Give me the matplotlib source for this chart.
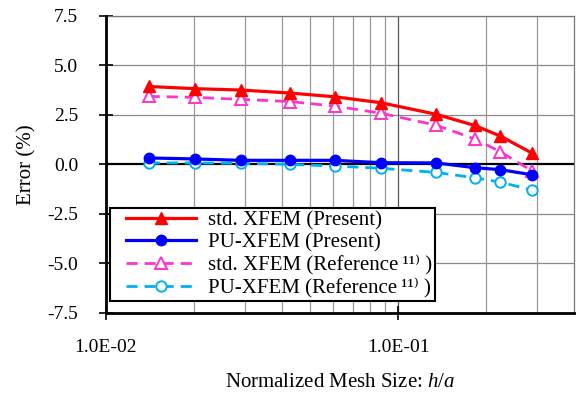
import matplotlib
matplotlib.use('Agg')
from matplotlib import pyplot as plt
from matplotlib.ticker import FixedLocator, NullFormatter
from matplotlib.legend_handler import HandlerLine2D
import numpy as np

plt.rcParams['font.family'] = ['Liberation Serif', 'DejaVu Serif']
plt.rcParams['mathtext.fontset'] = 'custom'
plt.rcParams['mathtext.rm'] = 'Liberation Serif'
plt.rcParams['mathtext.it'] = 'Liberation Serif:italic'

# mesh size h/a
h = [0.014, 0.0202, 0.029, 0.0426, 0.0607, 0.0874, 0.1346, 0.183, 0.2236, 0.2877]
std_present = [3.94, 3.83, 3.76, 3.61, 3.42, 3.12, 2.54, 1.97, 1.44, 0.57]
pu_present = [0.33, 0.28, 0.21, 0.21, 0.21, 0.09, 0.08, -0.16, -0.26, -0.52]
std_ref = [3.44, 3.39, 3.29, 3.18, 2.95, 2.59, 1.99, 1.29, 0.65, -0.33]
pu_ref = [0.08, 0.08, 0.06, 0.01, -0.08, -0.19, -0.40, -0.67, -0.89, -1.29]
yticks = [-7.5, -5.0, -2.5, 0.0, 2.5, 5.0, 7.5]
xticks = [0.01, 0.1]
xticklabels = ['1.0E-02', '1.0E-01']

fig = plt.figure(figsize=(5.78, 3.96), dpi=100)
ax = fig.add_axes([0.1834, 0.2096, 0.8096, 0.75])

ax.set_xscale('log')
ax.set_xlim(0.01, 0.4)
ax.set_ylim(-7.5, 7.5)

ax.axhline(0, color='black', lw=1.6, zorder=2)
for y in yticks:
    if y != 0:
        ax.axhline(y, color='#888888', lw=0.9, zorder=1)
minor = [k * 10.0**e for e in (-2, -1) for k in range(2, 10) if k * 10.0**e < 0.4]
for x in minor + [0.1]:
    ax.axvline(x, color='#555555' if x == 0.1 else '#999999', lw=0.9, zorder=1)

sup = '\u2009\u00b9\u00b9\u207e'
ax.plot(h, std_present, color='#FF0000', lw=2.3, marker='^', ms=8.5,
        label='std. XFEM (Present)', zorder=5)
ax.plot(h, pu_present, color='#0000FF', lw=2.3, marker='o', ms=7.5,
        label='PU-XFEM (Present)', zorder=5)
ax.plot(h, std_ref, color='#FF33CC', lw=2, ls=(0, (4, 2.5)), marker='^', ms=8.5,
        mfc='white', mew=1.4, label='std. XFEM (Reference' + sup + ' )', zorder=4)
ax.plot(h, pu_ref, color='#00B0F0', lw=2, ls=(0, (4, 2.5)), marker='o', ms=7.5,
        mfc='white', mew=1.4, label='PU-XFEM (Reference' + sup + ' )', zorder=4)

ax.set_yticks(yticks)
ax.set_yticklabels(['%.1f' % y for y in yticks])
ax.xaxis.set_major_locator(FixedLocator(xticks))
ax.set_xticklabels(xticklabels)
ax.xaxis.set_minor_formatter(NullFormatter())
ax.tick_params(axis='x', which='minor', length=0)
ax.tick_params(axis='both', which='major', direction='inout', length=10, width=1.2,
               labelsize=14, color='black')
ax.tick_params(axis='x', which='major', pad=14)
ax.tick_params(axis='y', which='major', pad=15)

for s in ['left', 'bottom']:
    ax.spines[s].set_linewidth(2)
    ax.spines[s].set_zorder(6)
for s in ['top', 'right']:
    ax.spines[s].set_color('#777777')
    ax.spines[s].set_linewidth(0.9)

ax.set_ylabel('Error (%)', fontsize=15, labelpad=8)
ax.set_xlabel('Normalized Mesh Size: $h/a$', fontsize=15, labelpad=12)

leg = ax.legend(loc='lower left', bbox_to_anchor=(0.008, 0.04), fontsize=15,
                frameon=True, fancybox=False, edgecolor='black', framealpha=1,
                handlelength=4.0, borderpad=0.15, labelspacing=0.12,
                handletextpad=0.55, borderaxespad=0,
                handler_map={matplotlib.lines.Line2D: HandlerLine2D(xpad=0.62)})
leg.get_frame().set_linewidth(1.5)
leg.set_zorder(10)

plt.savefig('out.png', dpi=100)
